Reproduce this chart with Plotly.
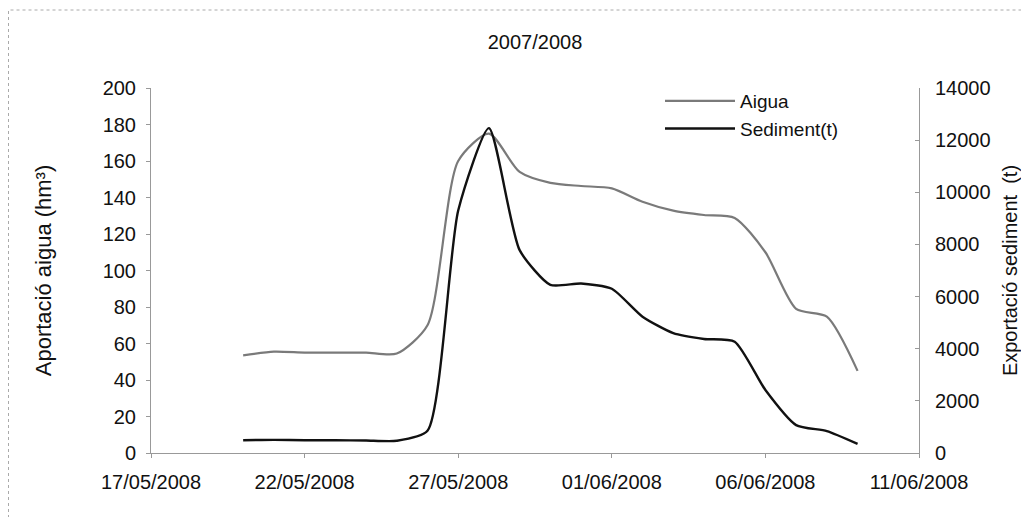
import plotly.graph_objects as go

dates = ["2008-05-20", "2008-05-21", "2008-05-22", "2008-05-23", "2008-05-24",
         "2008-05-25", "2008-05-26", "2008-05-27", "2008-05-28", "2008-05-29",
         "2008-05-30", "2008-05-31", "2008-06-01", "2008-06-02", "2008-06-03",
         "2008-06-04", "2008-06-05", "2008-06-06", "2008-06-07", "2008-06-08",
         "2008-06-09"]
aigua = [53.5, 55.5, 55, 55, 55, 54.5, 70, 160, 175, 154, 148, 146.3, 145,
         137.7, 132.8, 130.4, 128.8, 110, 79, 74.7, 45]
sediment = [490, 505, 490, 490, 480, 470, 850, 9300, 12460, 7780, 6450, 6500,
            6300, 5230, 4600, 4375, 4270, 2415, 1070, 840, 350]

x_ticks = ["2008-05-17", "2008-05-22", "2008-05-27", "2008-06-01", "2008-06-06", "2008-06-11"]
x_ticktext = ["17/05/2008", "22/05/2008", "27/05/2008", "01/06/2008", "06/06/2008", "11/06/2008"]
y_left_ticks = list(range(0, 201, 20))
y_right_ticks = list(range(0, 14001, 2000))
y_right_ticktext = [str(v) for v in y_right_ticks]

FONT = "Liberation Sans, Arial, sans-serif"
INK = "#111111"

fig = go.Figure()
fig.add_trace(go.Scatter(x=dates, y=aigua, name="Aigua", mode="lines",
                         line=dict(color="#7a7a7a", width=2.2, shape="spline", smoothing=0.7)))
fig.add_trace(go.Scatter(x=dates, y=sediment, name="Sediment(t)", mode="lines", yaxis="y2",
                         line=dict(color=INK, width=2.4, shape="spline", smoothing=0.6)))

# page has an 8px body margin: figure coords = page coords - 8
OFF = 8
W, H = 1029 - OFF, 517 - OFF
L, T = 151 - OFF, 88 - OFF
pw, ph = 768, 365
R, B = W - L - pw, H - T - ph

def px(xpage):
    return (xpage - OFF - L) / pw

def py(ypage):
    return (T + ph - (ypage - OFF)) / ph

fig.update_layout(
    width=W, height=H,
    margin=dict(l=L, r=R, t=T, b=B, autoexpand=False),
    paper_bgcolor="white", plot_bgcolor="white",
    font=dict(family=FONT, size=19, color=INK),
    title=dict(text="2007/2008", x=0.5, xref="paper", xanchor="center",
               y=1 - (42 - OFF) / H, yref="container", yanchor="middle",
               font=dict(family=FONT, size=20, color=INK)),
    showlegend=True,
    legend=dict(x=px(660), y=py(82), xanchor="left", yanchor="top",
                bgcolor="rgba(0,0,0,0)", font=dict(family=FONT, size=19, color=INK),
                tracegroupgap=0, itemwidth=70),
    xaxis=dict(type="date", range=["2008-05-17", "2008-06-11"],
               tickvals=x_ticks, ticktext=x_ticktext, automargin=False,
               showgrid=False, zeroline=False, showline=True, linecolor="#999999", linewidth=1,
               ticks="outside", ticklen=4, tickcolor="#999999", ticklabelstandoff=7,
               tickfont=dict(family=FONT, size=20, color=INK)),
    yaxis=dict(range=[0, 200], tickvals=y_left_ticks, automargin=False,
               showgrid=False, zeroline=False, showline=True, linecolor="#999999", linewidth=1,
               ticks="outside", ticklen=4, tickcolor="#999999", ticklabelstandoff=6,
               tickfont=dict(family=FONT, size=20, color=INK),
               title=dict(text="Aportació aigua (hm³)", standoff=44,
                          font=dict(family=FONT, size=22, color=INK))),
    yaxis2=dict(range=[0, 14000], tickvals=y_right_ticks, ticktext=y_right_ticktext,
                overlaying="y", side="right", automargin=False,
                showgrid=False, zeroline=False, showline=True, linecolor="#999999", linewidth=1,
                ticks="inside", ticklen=4, tickcolor="#999999", ticklabelstandoff=11,
                tickfont=dict(family=FONT, size=20, color=INK),
                title=dict(text="Exportació sediment\u00a0\u00a0(t)", standoff=13,
                           font=dict(family=FONT, size=20, color=INK))),
    shapes=[dict(type="rect", xref="paper", yref="paper",
                 x0=px(8.5), x1=px(1060), y0=py(540), y1=py(10),
                 line=dict(color="#aaaaaa", width=1, dash="dot"), layer="below")],
)

fig.write_html("out.html", config={"displayModeBar": False})
